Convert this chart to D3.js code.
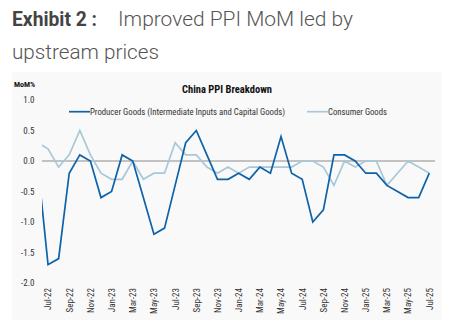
<!DOCTYPE html>
<html>
<head>
<meta charset="utf-8">
<script src="https://cdn.jsdelivr.net/npm/d3@7"></script>
<style>
  body { margin: 0; background: #fff; }
  .cond { font-family: "Roboto Condensed", "Liberation Sans Narrow", "DejaVu Sans Condensed", Roboto, sans-serif; }
</style>
</head>
<body>
<div id="chart"></div>
<script>
// month labels, Jun-22 .. Jul-25 (Jun-22 only partly visible on the left edge)
const months = ['Jun-22','Jul-22','Aug-22','Sep-22','Oct-22','Nov-22','Dec-22',
  'Jan-23','Feb-23','Mar-23','Apr-23','May-23','Jun-23','Jul-23','Aug-23','Sep-23','Oct-23','Nov-23','Dec-23',
  'Jan-24','Feb-24','Mar-24','Apr-24','May-24','Jun-24','Jul-24','Aug-24','Sep-24','Oct-24','Nov-24','Dec-24',
  'Jan-25','Feb-25','Mar-25','Apr-25','May-25','Jun-25','Jul-25'];

const producer = [0.0, -1.7, -1.6, -0.2, 0.1, 0.0, -0.6,
  -0.5, 0.1, 0.0, -0.6, -1.2, -1.1, -0.4, 0.3, 0.5, 0.1, -0.3, -0.3,
  -0.2, -0.3, -0.1, -0.2, 0.4, -0.2, -0.3, -1.0, -0.8, 0.1, 0.1, 0.0,
  -0.2, -0.2, -0.4, -0.5, -0.6, -0.6, -0.2];

const consumer = [0.3, 0.2, -0.1, 0.1, 0.5, 0.1, -0.2,
  -0.3, -0.3, 0.0, -0.3, -0.2, -0.2, 0.3, 0.1, 0.1, -0.1, -0.2, -0.1,
  -0.2, -0.1, -0.1, -0.1, -0.1, -0.1, 0.0, 0.0, -0.1, -0.4, 0.0, -0.1,
  0.0, 0.0, -0.4, -0.2, 0.0, -0.1, -0.2];

const xTickLabels = ['Jul-22','Sep-22','Nov-22','Jan-23','Mar-23','May-23','Jul-23','Sep-23','Nov-23',
  'Jan-24','Mar-24','May-24','Jul-24','Sep-24','Nov-24','Jan-25','Mar-25','May-25','Jul-25'];
const yTicks = [1.0, 0.5, 0.0, -0.5, -1.0, -1.5, -2.0];

const seriesNames = ['Producer Goods (Intermediate Inputs and Capital Goods)', 'Consumer Goods'];
const colors = ['#0d62a9', '#a8c8d9'];

const W = 458, H = 326;
const plot = {left: 42, right: 435, top: 100, bottom: 283};

const svg = d3.select('#chart').append('svg')
  .attr('width', W)
  .attr('height', H);

// heading
function heading(x, y, txt, len, weight, color) {
  svg.append('text')
    .attr('x', x).attr('y', y)
    .attr('fill', color)
    .attr('textLength', len)
    .attr('lengthAdjust', 'spacingAndGlyphs')
    .style('font-family', 'Roboto, sans-serif')
    .style('font-size', '20px')
    .style('font-weight', weight)
    .text(txt);
}
heading(12, 26, 'Exhibit 2 :', 85, 700, '#444');
heading(118, 26, 'Improved PPI MoM led by', 235, 300, '#555');
heading(12, 59, 'upstream prices', 147, 300, '#555');

// chart panel
svg.append('rect')
  .attr('x', 12).attr('y', 72)
  .attr('width', 430).attr('height', 248)
  .attr('fill', '#f9f9f9');

// scales: x by month index, Jun-22 = 0
const xscale = d3.scaleLinear().domain([0.43, 37.54]).range([plot.left, plot.right]);
const yscale = d3.scaleLinear().domain([-2, 1]).range([plot.bottom, plot.top]);

svg.append('clipPath').attr('id', 'clip')
  .append('rect')
  .attr('x', plot.left).attr('y', 0)
  .attr('width', plot.right - plot.left).attr('height', H);

// chart title and unit
svg.append('text')
  .attr('class', 'cond')
  .attr('x', 227).attr('y', 93)
  .attr('text-anchor', 'middle')
  .attr('fill', '#111')
  .style('font-size', '10.5px')
  .style('font-weight', 700)
  .text('China PPI Breakdown');

svg.append('text')
  .attr('class', 'cond')
  .attr('x', 14).attr('y', 87)
  .attr('fill', '#111')
  .style('font-size', '8px')
  .style('font-weight', 700)
  .text('MoM%');

// y axis (labels only)
const yaxis = d3.axisLeft(yscale)
  .tickValues(yTicks)
  .tickSize(0)
  .tickPadding(7.5)
  .tickFormat(d => d.toFixed(1));

const gy = svg.append('g')
  .attr('class', 'y axis cond')
  .attr('transform', `translate(${plot.left},0)`)
  .call(yaxis);
gy.select('.domain').remove();
gy.selectAll('text')
  .attr('fill', '#333')
  .style('font-size', '9px')
  .style('font-family', null);

// x axis (rotated labels only)
const xaxis = d3.axisBottom(xscale)
  .tickValues(xTickLabels.map(m => months.indexOf(m)))
  .tickSize(0)
  .tickFormat(i => months[i]);

const gx = svg.append('g')
  .attr('class', 'x axis cond')
  .attr('transform', `translate(0,${plot.bottom})`)
  .call(xaxis);
gx.select('.domain').remove();
gx.selectAll('text')
  .attr('fill', '#333')
  .attr('y', 0)
  .attr('x', -5)
  .attr('dy', '0.32em')
  .attr('transform', 'rotate(-90)')
  .style('text-anchor', 'end')
  .style('font-size', '9px')
  .style('font-family', null);

// zero line
svg.append('line')
  .attr('x1', plot.left).attr('x2', plot.right)
  .attr('y1', yscale(0)).attr('y2', yscale(0))
  .attr('stroke', '#8c8c8c')
  .attr('stroke-width', 1.2);

const line = d3.line()
  .x((d, i) => xscale(i))
  .y(d => yscale(d));

const g = svg.append('g').attr('clip-path', 'url(#clip)');

g.append('path')
  .datum(consumer)
  .attr('d', line)
  .attr('fill', 'none')
  .attr('stroke', colors[1])
  .attr('stroke-width', 1.7);

g.append('path')
  .datum(producer)
  .attr('d', line)
  .attr('fill', 'none')
  .attr('stroke', colors[0])
  .attr('stroke-width', 1.7);

// legend
const legendPos = [{x: 69, textLen: 195}, {x: 307, textLen: 59}];
const leg = svg.append('g').attr('class', 'cond');
seriesNames.forEach((name, i) => {
  const p = legendPos[i];
  leg.append('line')
    .attr('x1', p.x).attr('x2', p.x + 21)
    .attr('y1', 111.7).attr('y2', 111.7)
    .attr('stroke', colors[i])
    .attr('stroke-width', 1.7);
  leg.append('text')
    .attr('x', p.x + 21).attr('y', 115)
    .attr('fill', '#333')
    .attr('textLength', p.textLen)
    .attr('lengthAdjust', 'spacingAndGlyphs')
    .style('font-size', '8.5px')
    .text(name);
});
</script>
</body>
</html>
